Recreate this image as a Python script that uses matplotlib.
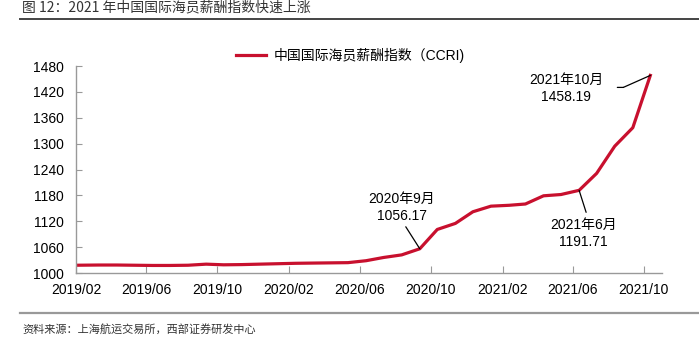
import numpy as np
import pandas as pd
import matplotlib
matplotlib.use('Agg')
import matplotlib.pyplot as plt
import matplotlib.dates as mdates
from matplotlib.lines import Line2D
from matplotlib.transforms import offset_copy

plt.rcParams['font.family'] = ['Liberation Sans', 'Noto Sans CJK SC']

# CCRI monthly readings, 2019/02 - 2021/10
release_dates = [
    '2019-02-01', '2019-03-12', '2019-04-12', '2019-05-12', '2019-06-12',
    '2019-07-12', '2019-08-12', '2019-09-12', '2019-10-12', '2019-11-12',
    '2019-12-12', '2020-01-12', '2020-02-12', '2020-03-12', '2020-04-12',
    '2020-05-12', '2020-06-12', '2020-07-12', '2020-08-12', '2020-09-12',
    '2020-10-12', '2020-11-12', '2020-12-12', '2021-01-12', '2021-02-12',
    '2021-03-12', '2021-04-12', '2021-05-12', '2021-06-12', '2021-07-12',
    '2021-08-12', '2021-09-12', '2021-10-12',
]
ccri = [
    1018, 1018.5, 1018.5, 1018, 1017.5,
    1017.5, 1018, 1020.5, 1019, 1019.5,
    1020.5, 1021.5, 1022.5, 1023, 1023.5,
    1024, 1028.5, 1036, 1042, 1056.17,
    1101, 1115, 1142, 1155, 1157,
    1160, 1179, 1182, 1191.71, 1231,
    1294, 1337, 1458.19,
]
series_name = '中国国际海员薪酬指数（CCRI)'
y_ticks = [1000, 1060, 1120, 1180, 1240, 1300, 1360, 1420, 1480]
x_tick_months = ['2019-02', '2019-06', '2019-10', '2020-02', '2020-06',
                 '2020-10', '2021-02', '2021-06', '2021-10']

# callouts: (index into series, label, text offset px, leader path offsets px)
callouts = [
    (19, '2020年9月\n1056.17', (-18, 41), [(-14, 22)]),
    (28, '2021年6月\n1191.71', (4, -43), [(7, -22)]),
    (32, '2021年10月\n1458.19', (-84, -13), [(-27, -12), (-33, -12)]),
]

x = mdates.date2num(pd.to_datetime(release_dates))

fig = plt.figure(figsize=(6.99, 3.41), dpi=100)
ax = fig.add_axes([76 / 699, 68 / 341, 586 / 699, 207 / 341])

ax.plot(x, ccri, color='#C8102E', lw=2.3, solid_joinstyle='round',
        label=series_name)
ax.xaxis_date()

ax.set_ylim(1000, 1480)
ax.set_yticks(y_ticks)
ax.set_xlim(mdates.datestr2num('2019-02-01'), mdates.datestr2num('2021-11-01'))
ax.set_xticks(mdates.date2num(pd.to_datetime(x_tick_months)))
ax.xaxis.set_major_formatter(mdates.DateFormatter('%Y/%m'))

for side in ('top', 'right'):
    ax.spines[side].set_visible(False)
for side in ('left', 'bottom'):
    ax.spines[side].set_color('#999999')
    ax.spines[side].set_linewidth(1)
ax.tick_params(axis='both', direction='in', color='#999999', labelsize=10,
               labelcolor='black')
ax.tick_params(axis='y', length=4, pad=9)
ax.tick_params(axis='x', length=5, pad=7)

ax.legend(loc='center', bbox_to_anchor=(350 / 699, 1 - 55 / 341),
          bbox_transform=fig.transFigure, frameon=False,
          handlelength=2.2, handletextpad=0.5, borderpad=0,
          prop={'family': ['Liberation Sans', 'Noto Sans CJK SC'], 'size': 10})

for idx, label, txt_off, leader in callouts:
    pt = (x[idx], ccri[idx])
    ax.annotate(label, xy=pt, xytext=txt_off, textcoords='offset pixels',
                ha='center', va='center', fontsize=10, linespacing=1.25)
    # leader line from the point out to the label, segment by segment
    prev = (0, 0)
    for off in leader:
        base = offset_copy(ax.transData, fig=fig, x=prev[0], y=prev[1],
                           units='dots')
        ax.annotate('', xy=pt, xycoords=base,
                    xytext=(off[0] - prev[0], off[1] - prev[1]),
                    textcoords='offset pixels',
                    arrowprops=dict(arrowstyle='-', lw=0.9, color='black',
                                    shrinkA=0, shrinkB=0))
        prev = off

# header and footer
fig.text(22 / 699, 1 - 7 / 341, '图 12：2021 年中国国际海员薪酬指数快速上涨',
         family=['Noto Sans CJK SC', 'DejaVu Sans'], fontsize=10,
         color='#333333', va='center', ha='left')
fig.add_artist(Line2D([20 / 699, 1], [1 - 18.5 / 341] * 2,
                      transform=fig.transFigure, color='#444444', lw=1.4))
fig.add_artist(Line2D([20 / 699, 1], [1 - 313 / 341] * 2,
                      transform=fig.transFigure, color='#999999', lw=1.6))
fig.text(22 / 699, 1 - 329 / 341, '资料来源：上海航运交易所，西部证券研发中心',
         family=['Noto Sans CJK SC', 'DejaVu Sans'], fontsize=8,
         color='#333333', va='center', ha='left')

fig.savefig('out.png', dpi=100)
